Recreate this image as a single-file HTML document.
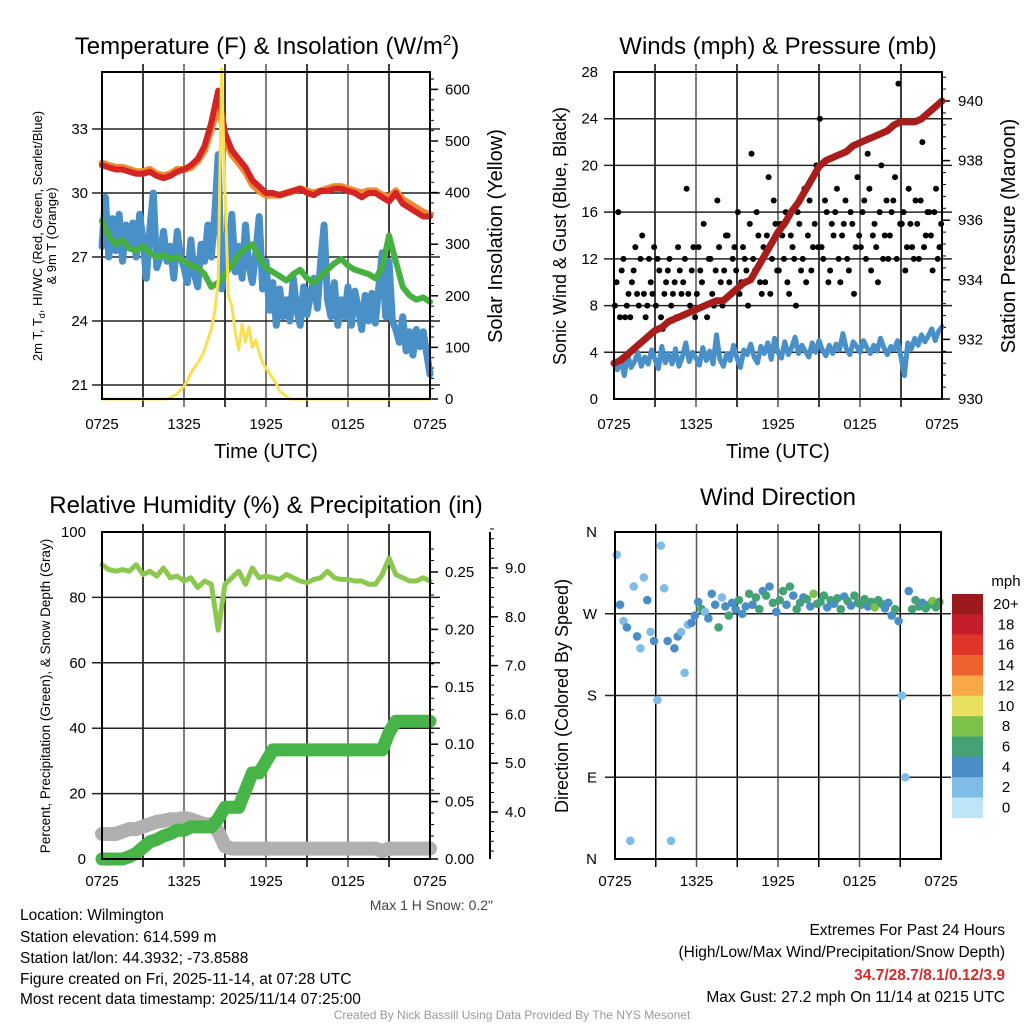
<!DOCTYPE html>
<html><head><meta charset="utf-8">
<style>
html,body{margin:0;padding:0;background:#fff;}
svg{display:block;font-family:"Liberation Sans",sans-serif;}
</style></head>
<body>
<svg id="c" width="1024" height="1024" viewBox="0 0 1024 1024" xmlns="http://www.w3.org/2000/svg">
<rect width="1024" height="1024" fill="#fff"/>
<g id="g1"></g>
<g id="g2"></g>
<g id="g3"></g>
<g id="g4"></g>
<g id="gt">
<text x="267" y="54" font-size="24" text-anchor="middle">Temperature (F) &amp; Insolation (W/m<tspan dy="-9" font-size="15">2</tspan><tspan dy="9">)</tspan></text>
<text x="778" y="54" font-size="24" text-anchor="middle">Winds (mph) &amp; Pressure (mb)</text>
<text x="266" y="513" font-size="24" text-anchor="middle">Relative Humidity (%) &amp; Precipitation (in)</text>
<text x="778" y="505" font-size="24" text-anchor="middle">Wind Direction</text>
<text x="266" y="458" font-size="20" text-anchor="middle">Time (UTC)</text>
<text x="778" y="458" font-size="20" text-anchor="middle">Time (UTC)</text>
<text transform="translate(42,236) rotate(-90)" font-size="13" text-anchor="middle">2m T, T<tspan dy="3" font-size="9">d</tspan><tspan dy="-3">, HI/WC (Red, Green, Scarlet/Blue)</tspan></text>
<text transform="translate(56,236) rotate(-90)" font-size="13" text-anchor="middle">&amp; 9m T (Orange)</text>
<text transform="translate(502,236) rotate(-90)" font-size="20" text-anchor="middle">Solar Insolation (Yellow)</text>
<text transform="translate(566,236) rotate(-90)" font-size="18" text-anchor="middle">Sonic Wind &amp; Gust (Blue, Black)</text>
<text transform="translate(1015,236) rotate(-90)" font-size="20" text-anchor="middle">Station Pressure (Maroon)</text>
<text transform="translate(50,696) rotate(-90)" font-size="13.5" text-anchor="middle">Percent, Precipitation (Green), &amp; Snow Depth (Gray)</text>
<text transform="translate(568,696) rotate(-90)" font-size="18" text-anchor="middle">Direction (Colored By Speed)</text>
<text x="493" y="910" font-size="14" fill="#444" text-anchor="end">Max 1 H Snow: 0.2"</text>
<g font-size="15.5">
<text x="20" y="920">Location: Wilmington</text>
<text x="20" y="942">Station elevation: 614.599 m</text>
<text x="20" y="963">Station lat/lon: 44.3932; -73.8588</text>
<text x="20" y="984">Figure created on Fri, 2025-11-14, at 07:28 UTC</text>
<text x="20" y="1004">Most recent data timestamp: 2025/11/14 07:25:00</text>
</g>
<g font-size="15.5" text-anchor="end">
<text x="1005" y="935">Extremes For Past 24 Hours</text>
<text x="1005" y="957">(High/Low/Max Wind/Precipitation/Snow Depth)</text>
<text x="1005" y="980" fill="#d42a2a" font-weight="bold">34.7/28.7/8.1/0.12/3.9</text>
<text x="1005" y="1002">Max Gust: 27.2 mph On 11/14 at 0215 UTC</text>
</g>
<text x="512" y="1019" font-size="12" fill="#999" text-anchor="middle">Created By Nick Bassill Using Data Provided By The NYS Mesonet</text>
</g>
</svg>
<script>
// ---------- DATA ----------
const timeLabels = ["0725","1325","1925","0125","0725"];
const tempTicks = [21,24,27,30,33];
const solarTicks = [0,100,200,300,400,500,600];
const windTicks = [0,4,8,12,16,20,24,28];
const presTicks = [930,932,934,936,938,940];
const rhTicks = [0,20,40,60,80,100];
const precipTicks = ["0.00","0.05","0.10","0.15","0.20","0.25"];
const snowTicks = ["4.0","5.0","6.0","7.0","8.0","9.0"];
const dirLabels = ["N","E","S","W","N"];
const cbLabels = ["20+","18","16","14","12","10","8","6","4","2","0"];
const cbColors = ["#9b1a1e","#c41e2a","#e0352b","#f0622d","#f8a848","#e8e060","#7cc24a","#44a274","#4a8ec8","#80bde6","#bfe6f8"];

// half-hourly (49)
const tempRed = [31.3,31.2,31.1,31.1,31.0,30.9,30.9,31.0,30.8,30.7,30.8,31.0,31.1,31.3,31.6,32.2,33.3,
 34.8,32.8,32.0,31.6,31.2,30.6,30.3,30.0,30.0,29.9,30.0,30.1,30.2,30.0,29.9,30.1,30.1,30.2,30.2,30.1,30.0,29.8,30.0,30.0,29.8,29.6,30.0,29.5,29.3,29.1,28.9,28.9];
const tempOrange = [31.4,31.3,31.2,31.2,31.1,31.0,31.0,31.1,30.9,30.8,30.9,31.1,31.1,31.2,31.5,32.0,33.0,
 34.2,32.6,31.8,31.4,31.0,30.4,30.1,29.9,29.9,29.9,30.0,30.1,30.2,30.1,30.0,30.1,30.2,30.3,30.3,30.2,30.1,30.0,30.1,30.1,29.9,29.8,30.1,29.7,29.5,29.3,29.1,29.0];
const tempGreen = [28.7,28.0,27.6,27.8,27.4,27.3,27.5,27.2,27.0,27.1,26.9,27.0,26.8,26.6,26.5,26.2,25.6,
 25.8,26.2,26.6,27.1,27.4,27.6,27.0,26.5,26.3,26.1,25.9,26.2,26.4,26.0,25.8,26.1,26.4,26.7,26.9,26.6,26.4,26.3,26.2,26.0,26.5,28.0,26.8,25.6,25.2,25.0,25.1,24.9];
// 15-minute (97)
const tempBlue = [27.5,29.8,27.0,28.8,27.3,29.0,26.8,28.5,27.6,
 28.6,27.0,29.0,27.8,26.0,28.3,30.0,26.5,
 27.0,28.2,26.8,27.5,26.0,28.2,27.0,26.5,
 25.8,27.8,26.2,25.6,27.6,26.8,28.5,27.0,
 29.0,31.8,25.5,28.0,26.5,29.0,26.3,27.5,
 26.0,28.5,26.6,25.8,27.2,28.9,25.5,26.8,
 24.5,25.8,23.8,25.5,24.2,25.0,24.0,26.0,
 24.5,23.8,25.6,24.3,25.2,26.0,24.6,26.8,
 28.5,25.0,24.2,25.8,23.8,25.0,24.2,25.6,
 23.8,25.4,24.6,23.6,25.2,24.0,25.3,23.9,
 25.6,27.2,24.2,26.8,24.0,23.6,23.0,24.2,
 22.6,23.5,22.4,23.6,22.8,23.5,22.5,21.5];
const solar = [0,0,0,0,0,0,0,0,0,0,0,0,0,0,0,0,0,0,0,0,
 3,6,10,18,25,35,50,60,70,80,95,115,135,170,230,640,400,200,180,130,95,145,110,140,100,115,90,70,60,50,40,30,15,10,5,0,
 0,0,0,0,0,0,0,0,0,0,0,0,0,0,0,0,0,0,0,0,0,0,0,0,0,0,0,0,0,0,0,0,0,0,0,0,0,0,0,0,0];
const sonicWind = [3.0,2.5,3.5,2.0, 3.8,2.7,3.2,4.0, 2.8,3.6,3.0,4.2, 3.4,2.6,4.5,3.1, 3.9,3.0,4.3,2.8, 3.6,4.8,3.2,4.0,
 3.5,2.9,4.4,3.3, 4.1,3.0,5.5,3.4, 2.8,3.9,3.3,4.6, 3.5,2.7,4.2,3.8, 4.7,3.6,3.1,4.5, 3.9,4.8,3.4,5.2,
 4.0,3.5,4.9,3.8, 4.4,5.3,3.9,4.6, 4.1,3.6,4.8,4.0, 5.0,4.2,3.7,4.6, 3.9,4.7,4.2,5.6, 4.3,3.8,4.9,4.5,
 4.0,5.0,4.4,3.9, 4.6,4.1,5.2,4.4, 3.8,4.5,4.2,5.0, 3.6,2.0,4.8,4.3, 5.2,4.6,5.5,4.9, 5.4,6.0,5.0,5.8,6.2];
const gustA = [8,16,11,7, 9,10,13,8, 14,7,12,9, 8,11,6,10, 12,9,7,11, 10,18,8,13, 9,11,15,7, 12,8,17,10,
 11,14,9,13, 16,10,12,8, 21,11,14,9, 10,19,12,15, 11,14,16,9, 13,8,15,12, 10,17,13,20, 24,12,16,11,
 14,18,10,15, 12,16,9,19, 13,17,21,11, 15,10,20,14, 12,16,19,27, 15,11,18,13, 17,12,22,14, 16,11,18,13];
const gustB = [10,7,12,8, 7,11,9,12, 9,8,10,13, 12,7,9,11, 8,10,13,9, 12,9,11,7, 13,10,8,12, 9,11,13,8,
 14,10,12,11, 9,13,11,15, 12,16,10,13, 14,9,17,11, 15,12,10,14, 12,16,11,18, 14,11,15,13, 13,17,10,15,
 16,12,14,17, 11,15,13,14, 16,12,18,14, 13,16,12,17, 14,17,12,15, 16,13,15,12, 15,17,13,16, 14,16,12,15];
const pressure = [931.2,931.3,931.5,931.7,931.9,932.1,932.3,932.4,932.6,932.7,932.8,932.9,933.0,933.1,933.2,933.3,
 933.3,933.5,933.7,933.9,934.0,934.4,934.8,935.2,935.6,935.9,936.3,936.6,937.0,937.4,937.8,938.0,
 938.1,938.2,938.3,938.5,938.6,938.7,938.8,938.9,939.0,939.2,939.3,939.3,939.3,939.4,939.6,939.8,940.0];
const rh = [90,88.5,88,88.5,88,90,87,88,86.5,89,86,86.5,85,86,83,85,84,70,84,86,88,84,89,86,86.5,86,85.5,87,86,85,84.5,85.5,86,88,86,85.5,85.5,85,85,84,84,87,92,87,86,85,85,86,85];
const precip = [0,0,0,0,0.002,0.005,0.01,0.015,0.017,0.02,0.022,0.025,0.025,0.028,0.028,0.028,0.028,0.035,0.045,0.045,0.045,0.06,0.075,0.075,0.085,0.095,0.095,
 0.095,0.095,0.095,0.095,0.095,0.095,0.095,0.095,0.095,0.095,0.095,0.095,0.095,0.095,0.095,0.11,0.12,0.12,0.12,0.12,0.12,0.12];
const snowDepth = [3.55,3.55,3.55,3.6,3.65,3.65,3.7,3.75,3.8,3.82,3.85,3.85,3.88,3.85,3.8,3.75,3.75,3.6,3.3,3.25,3.25,3.25,3.25,3.25,3.25,3.25,3.25,
 3.25,3.25,3.25,3.25,3.25,3.25,3.25,3.25,3.25,3.25,3.25,3.25,3.25,3.25,3.2,3.25,3.25,3.25,3.25,3.25,3.25,3.25];
// 15-minute wind direction (96)
const windDir = [335,280,262,255, 20,300,245,232, 310,285,250,240, 175,345,298,240, 20,232,245,250, 205,258,260,268,
 283,275,272,265, 292,280,255,288, 278,268,282,275, 285,270,278,292, 280,288,275,295, 290,300,282,272,
 285,295,280,300, 290,275,282,288, 286,278,292,281, 283,290,277,285, 281,287,275,289, 284,279,290,282,
 280,286,278,283, 277,285,281,276, 282,268,275,262, 180,90,295,275, 285,278,282,276, 280,284,277,283];
const windSpd = [3,5,3,5, 3,3,5,3, 3,5,3,5, 3,3,3,5, 3,5,5,3, 3,3,5,5,
 5,7,3,5, 5,5,7,3, 5,7,5,5, 7,5,5,7, 5,7,7,5, 7,5,7,5,
 7,7,5,7, 5,7,7,5, 7,5,9,7, 7,7,5,7, 5,7,7,5, 7,5,7,7,
 7,7,5,7, 9,7,7,5, 5,5,7,5, 3,3,5,7, 7,7,5,7, 7,9,7,7];

// ---------- DRAWING ----------
const NS="http://www.w3.org/2000/svg";
function el(parent,tag,attrs){const e=document.createElementNS(NS,tag);for(const k in attrs)e.setAttribute(k,attrs[k]);parent.appendChild(e);return e;}
function T(parent,x,y,s,size,anchor,fill){const e=el(parent,"text",{x:x,y:y,"font-size":size||15,"text-anchor":anchor||"middle",fill:fill||"#000"});e.textContent=s;return e;}
function hx(p,i,n){return p.x0+(i/(n-1))*(p.x1-p.x0);}
function polyline(g,p,arr,yf,color,w,name){
  let d="";arr.forEach((v,i)=>{d+=(i?"L":"M")+hx(p,i,arr.length).toFixed(1)+","+yf(v).toFixed(1);});
  const e=el(g,"path",{d:d,fill:"none",stroke:color,"stroke-width":w,"stroke-linejoin":"round","stroke-linecap":"round"});
  
  
  return e;
}
function frame(g,p,hlines,ty){
  for(let k=1;k<8;k++){const x=p.x0+k*(p.x1-p.x0)/8;const l=el(g,"line",{x1:x,x2:x,y1:p.y0-8,y2:p.y1+8,stroke:(k%2?"#000":"#555"),"stroke-width":1.5});
    
    }
  hlines.forEach(y=>{const l=el(g,"line",{x1:p.x0-10,x2:p.x1+10,y1:y,y2:y,stroke:"#222","stroke-width":1.5});
    
    });
  timeLabels.forEach((s,i)=>{const t=T(g,p.x0+i*(p.x1-p.x0)/4,p.y1+ty,s,15);
    
    });
}
function box(g,p){const r=el(g,"rect",{x:p.x0,y:p.y0,width:p.x1-p.x0,height:p.y1-p.y0,fill:"none",stroke:"#000","stroke-width":2});
  
  }

// Panel 1
(function(){
  const g=document.getElementById("g1");const p={x0:102,x1:430,y0:72,y1:399};
  const yT=v=>129+(33-v)*64/3; const yS=v=>399-v*0.516;
  frame(g,p,tempTicks.map(yT),30);
  tempTicks.forEach(v=>{const t=T(g,88,yT(v)+5,String(v),15,"end");});
  solarTicks.forEach(v=>{const t=T(g,445,yS(v)+5,String(v),15,"start");
    el(g,"line",{x1:p.x1,x2:p.x1+8,y1:yS(v),y2:yS(v),stroke:"#000","stroke-width":1.5});});
  for(let v=20;v<640;v+=20){el(g,"line",{x1:p.x1,x2:p.x1+4,y1:yS(v),y2:yS(v),stroke:"#000","stroke-width":1});}
  polyline(g,p,tempBlue,yT,"#4a90c8",7,"series-heat-index-windchill");
  polyline(g,p,tempGreen,yT,"#46b040",6,"series-dewpoint");
  polyline(g,p,tempOrange,yT,"#f08a30",7,"series-9m-temp");
  polyline(g,p,tempRed,yT,"#d42424",6,"series-2m-temp");
  polyline(g,p,solar,yS,"#f8e050",3,"series-solar-insolation");
  box(g,p);
})();

// Panel 2
(function(){
  const g=document.getElementById("g2");const p={x0:614,x1:942,y0:72,y1:399};
  const yW=v=>399-v*327/28; const yP=v=>399-(v-930)*29.8;
  frame(g,p,windTicks.slice(1,7).map(yW),30);
  windTicks.forEach(v=>{const t=T(g,598,yW(v)+5,String(v),15,"end");});
  presTicks.forEach(v=>{const t=T(g,958,yP(v)+5,String(v),15,"start");
    el(g,"line",{x1:p.x1,x2:p.x1+8,y1:yP(v),y2:yP(v),stroke:"#000","stroke-width":1.5});});
  for(let v=930.4;v<941;v+=0.4){el(g,"line",{x1:p.x1,x2:p.x1+4,y1:yP(v),y2:yP(v),stroke:"#000","stroke-width":1});}
  polyline(g,p,sonicWind,yW,"#4a90c8",5,"series-sonic-wind");
  [gustA,gustB].forEach((arr,k)=>arr.forEach((v,i)=>{
    const c=el(g,"circle",{cx:p.x0+(i+k*0.5+0.25)/96*(p.x1-p.x0),cy:yW(v),r:3,fill:"#000"});
    
    
  }));
  polyline(g,p,pressure,yP,"#a81c1c",7,"series-pressure");
  box(g,p);
})();

// Panel 3
(function(){
  const g=document.getElementById("g3");const p={x0:102,x1:430,y0:532,y1:859};
  const yR=v=>859-v*3.27; const yPr=v=>859-v*1148; const ySn=v=>812+(4-v)*48.8;
  frame(g,p,rhTicks.slice(1,5).map(yR),27);
  rhTicks.forEach(v=>{const t=T(g,86,yR(v)+5,String(v),15,"end");});
  precipTicks.forEach((s,i)=>{const y=yPr(i*0.05);const t=T(g,445,y+5,s,15,"start");
    el(g,"line",{x1:p.x1,x2:p.x1+8,y1:y,y2:y,stroke:"#000","stroke-width":1.5});});
  for(let v=0.01;v<0.28;v+=0.01){el(g,"line",{x1:p.x1,x2:p.x1+4,y1:yPr(v),y2:yPr(v),stroke:"#000","stroke-width":1});}
  el(g,"line",{x1:490,x2:490,y1:532,y2:859,stroke:"#000","stroke-width":2});
  snowTicks.forEach(s=>{const y=ySn(parseFloat(s));const t=T(g,505,y+5,s,15,"start");
    el(g,"line",{x1:490,x2:498,y1:y,y2:y,stroke:"#000","stroke-width":1.5});});
  for(let v=3.2;v<9.8;v+=0.2){el(g,"line",{x1:490,x2:494,y1:ySn(v),y2:ySn(v),stroke:"#000","stroke-width":1});}
  polyline(g,p,snowDepth,ySn,"#b0b0b0",14,"series-snow-depth");
  polyline(g,p,precip,yPr,"#46b446",13,"series-precipitation");
  polyline(g,p,rh,yR,"#8cc850",5,"series-relative-humidity");
  box(g,p);
})();

// Panel 4
(function(){
  const g=document.getElementById("g4");const p={x0:615,x1:941,y0:532,y1:859};
  const yD=v=>859-v*327/360;
  frame(g,p,[90,180,270].map(yD),27);
  dirLabels.forEach((s,i)=>{const t=T(g,597,yD(i*90)+5,s,15,"end");});
  const spdColor=v=>cbColors[10-Math.min(10,Math.floor(v/2))];
  windDir.forEach((d,i)=>{
    const c=el(g,"circle",{cx:p.x0+(i+0.5)/96*(p.x1-p.x0),cy:yD(d),r:4.3,fill:spdColor(windSpd[i])});
    
    
  });
  box(g,p);
  const cb=el(g,"g",{});
  
  
  T(cb,1006,586,"mph",15);
  cbLabels.forEach((s,i)=>{
    const r=el(cb,"rect",{x:952,y:594+i*20.36,width:31,height:20.6,fill:cbColors[i]});
    
    
    const t=T(cb,1006,609+i*20.36,s,15);
    
    
  });
})();
</script>
</body></html>
